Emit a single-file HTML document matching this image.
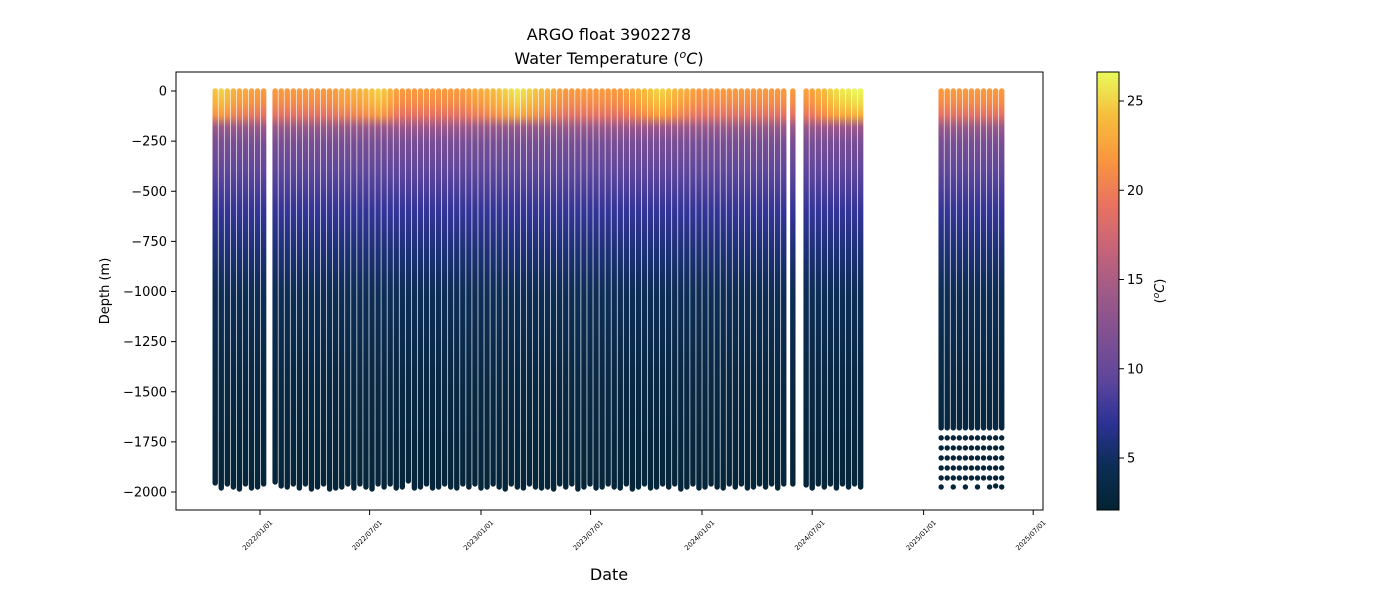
<!DOCTYPE html>
<html><head><meta charset="utf-8"><style>
body{margin:0;background:#fff;font-family:"Liberation Sans","DejaVu Sans",sans-serif}
svg text{font-family:"DejaVu Sans","Liberation Sans",sans-serif}
</style></head><body>
<svg id="c" width="1400" height="600" xmlns="http://www.w3.org/2000/svg">
<defs id="defs"></defs>
<rect x="0" y="0" width="1400" height="600" fill="#fff"/>
<text x="609" y="40" font-size="16" text-anchor="middle">ARGO float 3902278</text>
<text x="609" y="64" font-size="16" text-anchor="middle">Water Temperature (<tspan baseline-shift="super" font-size="11" font-style="italic">o</tspan><tspan font-style="italic">C</tspan>)</text>
<g id="plot"></g>
<rect x="176" y="72" width="867" height="438" fill="none" stroke="#000" stroke-width="1"/>
<g id="yaxis"></g>
<g id="xaxis"></g>
<text transform="translate(109,291) rotate(-90)" font-size="13" text-anchor="middle">Depth (m)</text>
<text x="609" y="580" font-size="16" text-anchor="middle">Date</text>
<g id="cbar"></g>
<text transform="translate(1164,291) rotate(-90)" font-size="13" text-anchor="middle">(<tspan baseline-shift="super" font-size="9" font-style="italic">o</tspan><tspan font-style="italic">C</tspan>)</text>
</svg>
<script>
// Data: profile dates (days since 2022-01-01), max depth (m), surface temperature (°C)
const profileDays=[-74,-64,-54,-44,-34,-24,-14,-4,6,
25,35,45,55,65,
75,85,95,105,115,
125,135,145,155,165,
175,185,195,205,215,
225,235,245,255,265,
275,285,295,305,315,
325,335,345,355,365,
375,385,395,405,415,
425,435,445,455,465,
475,485,495,505,515,
525,535,545,555,565,
575,585,595,605,615,
625,635,645,655,665,
675,685,695,705,715,
725,735,745,755,765,
775,785,795,805,815,
825,835,845,855,865,
880,
902,912,922,932,942,952,962,972,982,992,
1125,1135,1145,1155,1165,1175,1185,1195,1205,1215,1225];
const maxDepth=[1955,1980,1960,1975,1985,1960,1980,1975,1960,
1950,1970,1975,1960,1980,
1960,1985,1975,1960,1985,
1980,1975,1960,1980,1960,
1975,1985,1960,1975,1960,
1980,1975,1945,1980,1975,
1960,1980,1975,1960,1975,
1980,1960,1975,1960,1980,
1975,1960,1975,1985,1960,
1975,1980,1960,1975,1980,
1975,1985,1960,1975,1960,
1985,1975,1960,1980,1975,
1960,1975,1980,1960,1985,
1975,1960,1980,1975,1960,
1975,1960,1985,1975,1960,
1980,1975,1960,1975,1980,
1960,1975,1960,1980,1975,
1960,1975,1960,1980,1960,
1960,
1965,1980,1960,1975,1960,1980,1960,1975,1960,1975,
1680,1680,1680,1680,1680,1680,1680,1680,1680,1680,1680];
const surfaceTemp=[24.5,25,24.5,23.5,23,23,22.5,22.5,22,
22,22,22,22,22,
22,22,22,22,22,
22.5,23,23,23.5,23.5,
24,24.5,25,24.5,23.5,
22.5,22,22,22,22,
22,22,22,22,22,
22,22,22.5,23,23,
23.5,24,24.5,25,25.5,
26,25.5,25,24.5,24,
23.5,23,22.5,22,22,
22,22,22,22,22,
22,22,22,22.5,23,
23.5,24,24.5,25,25,
24.5,24,23.5,23,22.5,
22,22,22,22,22,
22,22,22,22,22,
22,22,22,22,22,
22,
22.5,22.5,23.5,24,25,25.5,26,26,26.5,26.5,
22,22,22,22,22,22,22,22,22,22,22];
const deepSampleDepths=[1730,1780,1830,1880,1930];
const bottomDots=[1975,null,1975,null,1975,null,1975,null,1975,1970,1975];
const yTicks=[0,-250,-500,-750,-1000,-1250,-1500,-1750,-2000];
const xTickDays=[0,181,365,546,730,912,1096,1277];
const xTickLabels=["2022/01/01","2022/07/01","2023/01/01","2023/07/01","2024/01/01","2024/07/01","2025/01/01","2025/07/01"];
const cbTicks=[5,10,15,20,25];

const NS="http://www.w3.org/2000/svg";
const X=d=>260+d*(221/365);
const Y=z=>91+z*(401/2000);
const CB=t=>458-(t-5)*17.85;
const stops=[[4,35,51],[12,45,85],[45,50,150],[95,70,155],[128,80,145],[160,90,135],[200,100,120],[233,115,95],[249,150,62],[246,190,60],[232,250,91]];
function cmap(t){if(!isFinite(t))t=10;let v=(t-2.1)/(26.7-2.1);v=Math.max(0,Math.min(1,v))*10;const i=Math.min(9,Math.floor(v)),f=v-i;const a=stops[i],b=stops[i+1];return `rgb(${a.map((c,k)=>Math.round(c+(b[k]-c)*f)).join(',')})`;}
function mk(tag,attrs,parent){const e=document.createElementNS(NS,tag);for(const k in attrs)e.setAttribute(k,attrs[k]);parent.appendChild(e);return e;}
const defs=document.getElementById('defs'),plot=document.getElementById('plot');
// upper layer relative to SST, deeper layer absolute temperatures
const upper=[[0,0],[60,-1],[120,-3]];
const deep=[[180,14],[250,11.5],[400,9.5],[600,7.3],[800,5.8],[1000,4.6],[1500,3.2],[2000,2.5]];
const nLast=11, firstLast=profileDays.length-nLast;
profileDays.forEach((d,i)=>{
  const sst=surfaceTemp[i]||22,md=maxDepth[i]||1970;
  const g=mk('linearGradient',{id:'g'+i,x1:0,y1:Y(0),x2:0,y2:Y(2000),gradientUnits:'userSpaceOnUse'},defs);
  upper.forEach(p=>{mk('stop',{offset:p[0]/2000,'stop-color':cmap(sst+p[1])},g);});
  deep.forEach(p=>{mk('stop',{offset:p[0]/2000,'stop-color':cmap(p[1])},g);});
  const x=X(d);
  const r=mk('rect',{x:x-2.7,y:Y(0)-2.7,width:5.4,height:Y(md)-Y(0)+5.4,rx:2.7,fill:`url(#g${i})`},plot);
  
  
  if(i>=firstLast){
    const k=i-firstLast;
    deepSampleDepths.forEach(z=>{const c=mk('circle',{cx:x,cy:Y(z),r:2.7,fill:cmap(2.6)},plot);
      
      });
    if(bottomDots[k]){const c=mk('circle',{cx:x,cy:Y(bottomDots[k]),r:2.7,fill:cmap(2.5)},plot);
      
      }
  }
});
const ya=document.getElementById('yaxis');
yTicks.forEach(v=>{const y=Y(-v);
  mk('line',{x1:171,x2:176,y1:y,y2:y,stroke:'#000'},ya);
  const t=mk('text',{x:167,y:y+4.5,'font-size':13,'text-anchor':'end'},ya);t.textContent=String(v).replace('-','\u2212');
  
  });
const xa=document.getElementById('xaxis');
xTickDays.forEach((d,i)=>{const x=X(d);
  mk('line',{x1:x,x2:x,y1:510,y2:515,stroke:'#000'},xa);
  const t=mk('text',{transform:`translate(${x+13},${523}) rotate(-45)`,'font-size':6.8,'text-anchor':'end'},xa);t.textContent=xTickLabels[i];
  
  });
const cb=document.getElementById('cbar');
const cg=mk('linearGradient',{id:'cbg',x1:0,y1:1,x2:0,y2:0},defs);
for(let k=0;k<=40;k++){mk('stop',{offset:k/40,'stop-color':cmap(2.1+k/40*(26.7-2.1))},cg);}
mk('rect',{x:1097,y:72,width:22,height:438,fill:'url(#cbg)',stroke:'#000','stroke-width':1},cb);
cbTicks.forEach(v=>{const y=CB(v);
  mk('line',{x1:1119,x2:1124,y1:y,y2:y,stroke:'#000'},cb);
  const t=mk('text',{x:1127,y:y+4.5,'font-size':13},cb);t.textContent=v;
  
  });
</script>
</body></html>
